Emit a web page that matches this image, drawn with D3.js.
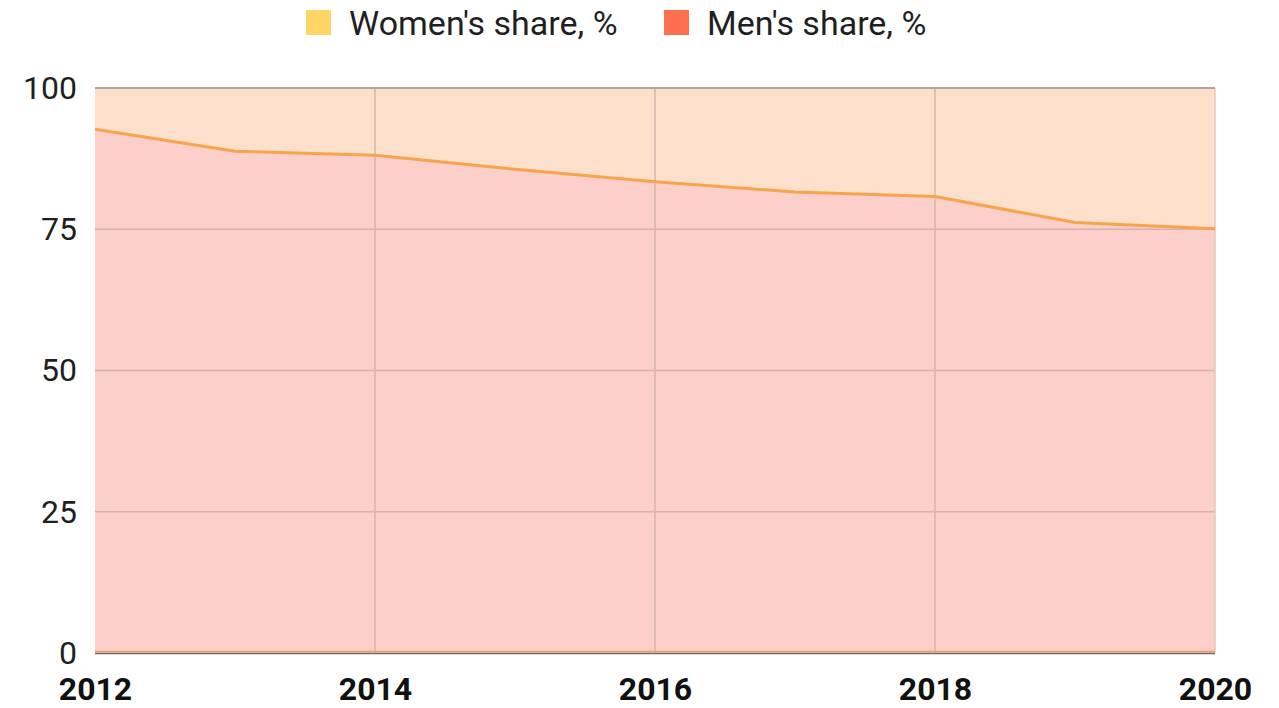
<!DOCTYPE html>
<html>
<head>
<meta charset="utf-8">
<script src="https://cdn.jsdelivr.net/npm/d3@7"></script>
<style>
    html, body { margin: 0; padding: 0; background: #fff; }
    svg { display: block; font-family: Roboto, "Noto Sans", sans-serif; }
</style>
</head>
<body>
<div class="chart"></div>
<script>
    var years = [2012, 2013, 2014, 2015, 2016, 2017, 2018, 2019, 2020];
    var menShare = [92.7, 88.8, 88.1, 85.6, 83.4, 81.6, 80.8, 76.2, 75.1];
    var womenShare = [7.3, 11.2, 11.9, 14.4, 16.6, 18.4, 19.2, 23.8, 24.9];
    var seriesNames = ["Women's share, %", "Men's share, %"];
    var seriesColors = ['#ffd666', '#ff6f4e'];
    var xTicks = [2012, 2014, 2016, 2018, 2020];
    var yTicks = [0, 25, 50, 75, 100];

    var width = 1279, height = 708;
    var margin = { top: 88, right: 64, bottom: 55, left: 95 };

    var svg = d3.select('.chart').append('svg')
        .attr('width', width)
        .attr('height', height);

    var x = d3.scaleLinear()
        .domain([2012, 2020])
        .range([margin.left, width - margin.right]);

    var y = d3.scaleLinear()
        .domain([0, 100])
        .range([height - margin.bottom, margin.top]);

    var rows = years.map(function (yr, i) {
        return { year: yr, men: menShare[i], women: womenShare[i] };
    });

    // women stacked on top of men
    var upper = d3.area()
        .x(function (d) { return x(d.year); })
        .y0(function (d) { return y(d.men); })
        .y1(function (d) { return y(d.men + d.women); });

    var lower = d3.area()
        .x(function (d) { return x(d.year); })
        .y0(y(0))
        .y1(function (d) { return y(d.men); });

    svg.append('path').datum(rows)
        .attr('d', upper)
        .attr('fill', '#fde0cb');

    svg.append('path').datum(rows)
        .attr('d', lower)
        .attr('fill', '#fdcfca');

    // grid
    svg.append('g')
        .selectAll('line.h')
        .data(yTicks.filter(function (d) { return d > 0 && d < 100; }))
        .enter().append('line')
        .attr('x1', margin.left).attr('x2', width - margin.right)
        .attr('y1', function (d) { return y(d); }).attr('y2', function (d) { return y(d); })
        .attr('stroke', '#d6b4ac').attr('stroke-width', 1.5);

    svg.append('g')
        .selectAll('line.v')
        .data(xTicks.slice(1))
        .enter().append('line')
        .attr('x1', function (d) { return x(d); }).attr('x2', function (d) { return x(d); })
        .attr('y1', y(100)).attr('y2', y(0))
        .attr('stroke', function (d) { return d === 2020 ? '#e8c4b8' : '#d6b4ac'; })
        .attr('stroke-width', 1.5);

    svg.append('line')
        .attr('x1', margin.left).attr('x2', width - margin.right)
        .attr('y1', y(100)).attr('y2', y(100))
        .attr('stroke', '#b3a49b').attr('stroke-width', 2);

    // series line
    svg.append('path').datum(rows)
        .attr('d', d3.line()
            .x(function (d) { return x(d.year); })
            .y(function (d) { return y(d.men); }))
        .attr('fill', 'none')
        .attr('stroke', '#f7a44d')
        .attr('stroke-width', 3);

    svg.append('line')
        .attr('x1', margin.left).attr('x2', width - margin.right)
        .attr('y1', y(0) - 1.5).attr('y2', y(0) - 1.5)
        .attr('stroke', '#f2a06a').attr('stroke-width', 1.5);

    svg.append('line')
        .attr('x1', margin.left).attr('x2', width - margin.right)
        .attr('y1', y(0) + 0.5).attr('y2', y(0) + 0.5)
        .attr('stroke', '#6f6a66').attr('stroke-width', 1.5);

    // axes
    var yAxis = d3.axisLeft(y).tickValues(yTicks).tickSize(0).tickPadding(18);
    svg.append('g')
        .attr('transform', 'translate(' + margin.left + ',0)')
        .call(yAxis)
        .call(function (g) { g.select('.domain').remove(); })
        .selectAll('text')
        .attr('font-size', 32)
        .attr('font-family', 'Roboto')
        .attr('fill', '#1f1f1f');

    var xAxis = d3.axisBottom(x).tickValues(xTicks).tickFormat(d3.format('d')).tickSize(0).tickPadding(24);
    svg.append('g')
        .attr('transform', 'translate(0,' + y(0) + ')')
        .call(xAxis)
        .call(function (g) { g.select('.domain').remove(); })
        .selectAll('text')
        .attr('font-size', 32)
        .attr('font-weight', 'bold')
        .attr('font-family', 'Roboto')
        .attr('fill', '#111');

    // legend
    var legendX = [306, 664];
    var legend = svg.append('g').selectAll('g')
        .data(seriesNames)
        .enter().append('g')
        .attr('transform', function (d, i) { return 'translate(' + legendX[i] + ',10)'; });

    legend.append('rect')
        .attr('width', 25).attr('height', 25)
        .attr('fill', function (d, i) { return seriesColors[i]; });

    legend.append('text')
        .attr('x', 43).attr('y', 24.5)
        .attr('font-size', 34)
        .attr('fill', '#1f1f1f')
        .text(function (d) { return d; });
</script>
</body>
</html>
